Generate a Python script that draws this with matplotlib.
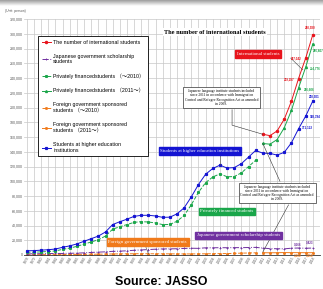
import matplotlib
matplotlib.use('Agg')
import matplotlib.pyplot as plt
import numpy as np
from matplotlib.lines import Line2D

plt.rcParams['font.family'] = ['Liberation Sans', 'Noto Sans CJK JP']

# ---- data ----
years = list(range(1978, 2019))
years_new = list(range(2011, 2019))
years_old = list(range(1978, 2011))

higher_ed = [5755, 5933, 6572, 7179, 8116, 10428, 12410, 15009, 18631, 22154,
             25643, 31251, 41347, 45066, 48561, 52405, 53787, 53847, 52921, 51047,
             51298, 55755, 64011, 78812, 95550, 109508, 117302, 121812, 117927, 118498,
             123829, 132720, 141774, 138075, 137756, 135519, 139185, 152062, 171122,
             188384, 208901]

total_new = [163697, 161848, 168145, 184155, 208379, 239287, 267042, 298980]

gov_scholar = [1500, 1650, 1800, 1950, 2050, 2082, 2345, 2502, 2960, 3458,
               3908, 4280, 4961, 5219, 5699, 6408, 6880, 7371, 7881, 8250,
               8323, 8492, 8930, 9173, 9009, 9746, 9804, 9891, 9869, 10020,
               9923, 10168, 10349, 9396, 8588, 8529, 8351, 9223, 9481, 9166, 9423]

private_old = [3855, 3833, 4272, 4679, 5466, 7696, 9365, 11707, 14771, 17696,
               20635, 25721, 34986, 38347, 41262, 44297, 45157, 44776, 43390, 41197,
               41425, 45763, 53631, 68189, 84991, 98112, 105748, 110021, 106108, 106328,
               111356, 119852, 128425]
private_new = [151201, 150260, 156516, 172504, 195956, 226606, 254776, 286407]

foreign_old = [400, 450, 500, 550, 600, 650, 700, 800, 900, 1000,
               1100, 1250, 1400, 1500, 1600, 1700, 1750, 1700, 1650, 1600,
               1550, 1500, 1450, 1450, 1550, 1650, 1750, 1900, 1950, 2150,
               2550, 2700, 3000]
foreign_new = [3100, 3000, 3100, 3300, 3200, 3200, 3100, 3150]

RED = '#e8141c'
BLUE = '#1414d2'
GREEN = '#1aa64a'
PURPLE = '#7030a0'
ORANGE = '#f07a1a'

fig = plt.figure(figsize=(3.23, 2.89), dpi=100)
fig.patch.set_facecolor('white')

# grey shadow band along the top edge
band = fig.add_axes([0, 1 - 6 / 289, 1, 6 / 289])
band.imshow(np.linspace(0.62, 1.0, 20).reshape(-1, 1), cmap='gray', vmin=0, vmax=1,
            aspect='auto', extent=[0, 1, 0, 1])
band.axis('off')

ax = fig.add_axes([24 / 323, 1 - 255 / 289, 296 / 323, 236 / 289])

lw = 0.7
ax.plot(years_old, foreign_old, color=ORANGE, lw=lw, ls='--', marker='s', ms=1.0)
ax.plot(years_new, foreign_new, color=ORANGE, lw=lw, marker='s', ms=1.0)
ax.plot(years, gov_scholar, color=PURPLE, lw=lw, ls='-.', marker='+', ms=1.8, mew=0.6)
ax.plot(years_old, private_old, color=GREEN, lw=lw, ls='--', marker='s', ms=1.2)
ax.plot(years_new, private_new, color=GREEN, lw=lw, marker='^', ms=1.4)
ax.plot(years, higher_ed, color=BLUE, lw=lw, marker='s', ms=1.3)
ax.plot(years_new, total_new, color=RED, lw=lw, marker='o', ms=1.5)

ax.set_xlim(1977.6, 2019)
ax.set_ylim(0, 320000)
ax.set_xticks(years)
ax.set_xticklabels([str(y) for y in years], rotation=60, fontsize=2.4, color='#555555')
ax.set_yticks(range(0, 320001, 20000))
ax.set_yticklabels([f'{v:,}' for v in range(0, 320001, 20000)], fontsize=2.6, color='#555555')
ax.tick_params(length=0, pad=1)
ax.grid(True, color='#c8c8c8', lw=0.5)
ax.set_axisbelow(True)
for s in ['top', 'right', 'left']:
    ax.spines[s].set_visible(False)
ax.spines['bottom'].set_color('#333333')
ax.spines['bottom'].set_linewidth(0.6)

fig.text(5 / 323, 1 - 11 / 289, '(Unit: person)', fontsize=2.4, color='#555555', va='center')

# title inside chart
ax.text(1997.2, 302000, 'The number of international students', fontsize=4.6,
        family='Liberation Serif', fontweight='bold', va='center', ha='left',
        bbox=dict(fc='white', ec='none', pad=1))

# legend
handles = [
    Line2D([], [], color=RED, lw=lw, marker='o', ms=1.5),
    Line2D([], [], color=PURPLE, lw=lw, ls='-.', marker='+', ms=1.8, mew=0.6),
    Line2D([], [], color=GREEN, lw=lw, ls='--', marker='s', ms=1.2),
    Line2D([], [], color=GREEN, lw=lw, marker='^', ms=1.4),
    Line2D([], [], color=ORANGE, lw=lw, ls='--', marker='s', ms=1.0),
    Line2D([], [], color=ORANGE, lw=lw, marker='s', ms=1.0),
    Line2D([], [], color=BLUE, lw=lw, marker='s', ms=1.3),
]
labels = [
    'The number of international students',
    'Japanese government scholarship\nstudents',
    'Privately financedstudents （～2010）',
    'Privately financedstudents （2011～）',
    'Foreign government sponsored\nstudents （～2010）',
    'Foreign government sponsored\nstudents （2011～）',
    'Students at higher education\ninstitutions',
]
leg = ax.legend(handles, labels, loc='upper left', bbox_to_anchor=(38 / 323, 1 - 36 / 289),
                bbox_transform=fig.transFigure, fontsize=3.8, labelspacing=1.7,
                handlelength=1.8, handletextpad=0.4, borderpad=0.7, borderaxespad=0,
                fancybox=False, framealpha=1, edgecolor='black')
leg.get_frame().set_linewidth(0.6)

# coloured tag boxes
def tag(x, y, text, color):
    ax.text(x, y, text, fontsize=3.5, family='Liberation Serif', color='white',
            ha='center', va='center', bbox=dict(fc=color, ec=color, pad=1.3))

tag(2010.3, 272500, 'International students', RED)
ax.plot([2014.9, 2016.6], [267000, 251000], color='#444444', lw=0.4)
tag(2002.2, 141000, 'Students at higher education institutions', BLUE)
ax.plot([2005.0, 2005], [136500, 121812], color='#444444', lw=0.4)
tag(2006.0, 59000, 'Privately financed students', GREEN)
tag(1994.9, 17600, 'Foreign government sponsored students', ORANGE)
ax.plot([1994.6, 1995], [12000, 1700], color='#444444', lw=0.4)
tag(2007.6, 26500, 'Japanese government scholarship students', PURPLE)

note = ('Japanese language institute students included\nsince 2011 in accordance with Immigration\n'
        'Control and Refugee Recognition Act as amended\nin 2009.')
ax.text(2005.2, 213600, note, fontsize=2.6, family='Liberation Serif', ha='center', va='center',
        linespacing=1.1, bbox=dict(fc='white', ec='#333333', lw=0.5, pad=1.2))
ax.plot([2006.7, 2006.7, 2011], [197000, 176000, total_new[0]], color='#333333', lw=0.4)
ax.text(2013.0, 84000, note, fontsize=2.6, family='Liberation Serif', ha='center', va='center',
        linespacing=1.1, bbox=dict(fc='white', ec='#333333', lw=0.5, pad=1.2))
ax.plot([2013.4, 2011], [100000, private_new[0]], color='#333333', lw=0.4)
ax.plot([2014.6, 2011], [68000, 4000], color='#333333', lw=0.4)

# value labels
def vlabel(x, y, text, color, dx, dy, ha):
    ax.annotate(text, (x, y), xytext=(dx, dy), textcoords='offset points',
                fontsize=2.2, color=color, ha=ha, va='center', fontweight='bold')

vlabel(2018, total_new[-1], f'{total_new[-1]:,}', RED, -2, 5, 'center')
vlabel(2017, total_new[-2], f'{total_new[-2]:,}', RED, -3, 0, 'right')
vlabel(2016, total_new[-3], f'{total_new[-3]:,}', RED, -3, -1, 'right')
vlabel(2018, private_new[-1], f'{private_new[-1]:,}', GREEN, 0, -5, 'left')
vlabel(2017, private_new[-2], f'{private_new[-2]:,}', GREEN, 3, -1, 'left')
vlabel(2016, private_new[-3], f'{private_new[-3]:,}', GREEN, 4, -1, 'left')
vlabel(2018, higher_ed[-1], f'{higher_ed[-1]:,}', BLUE, -3, 3, 'left')
vlabel(2017, higher_ed[-2], f'{higher_ed[-2]:,}', BLUE, 3, 0, 'left')
vlabel(2016, higher_ed[-3], f'{higher_ed[-3]:,}', BLUE, 2, 1, 'left')
vlabel(2017, gov_scholar[-2], f'{gov_scholar[-2]:,}', PURPLE, -6, 3, 'center')
vlabel(2018, gov_scholar[-1], f'{gov_scholar[-1]:,}', PURPLE, -2, 4, 'center')
vlabel(2017, foreign_new[-2], f'{foreign_new[-2]:,}', ORANGE, -6, -2, 'center')
vlabel(2018, foreign_new[-1], f'{foreign_new[-1]:,}', ORANGE, -2, -2, 'center')

fig.text(0.5, 1 - 282 / 289, 'Source: JASSO', fontsize=9, fontweight='bold',
         ha='center', va='center')

fig.savefig('out.png', dpi=100)
